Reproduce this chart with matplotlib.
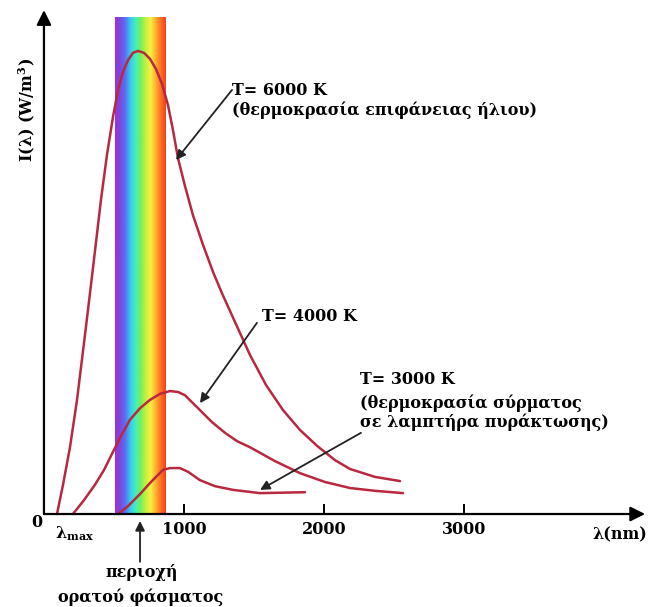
import numpy as np
import matplotlib
matplotlib.use('Agg')
import matplotlib.pyplot as plt
from matplotlib.colors import LinearSegmentedColormap

# wavelength (nm) and intensity (arbitrary units)
lam_6000 = [93, 136, 186, 236, 293, 350, 407, 450, 493, 529, 564, 600, 636, 671, 714, 757,
            800, 843, 886, 921, 957, 1007, 1064, 1136, 1207, 1271, 1364, 1471, 1586, 1707,
            1829, 1950, 2079, 2186, 2364, 2543]
I_6000 = [0, 6.3, 14.4, 24.6, 38.6, 53.0, 67.7, 77.4, 85.6, 91.4, 95.3, 97.8, 99.4, 99.8, 99.4, 98.1,
          95.9, 92.7, 88.1, 82.8, 76.7, 70.7, 64.4, 58.0, 52.2, 47.6, 41.4, 34.3, 27.8, 22.4,
          18.1, 14.7, 11.6, 9.7, 8.0, 7.1]

lam_4000 = [207, 286, 364, 429, 493, 550, 614, 686, 757, 829, 900, 957, 1007, 1057, 1114,
            1200, 1293, 1379, 1471, 1650, 1829, 2007, 2186, 2364, 2564]
I_4000 = [0, 3.0, 6.3, 9.5, 13.4, 16.8, 20.3, 22.8, 24.6, 25.9, 26.5, 26.3, 25.6, 24.1, 22.4,
          19.8, 17.5, 15.7, 14.4, 11.4, 8.8, 6.9, 5.6, 5.0, 4.5]

lam_3000 = [529, 600, 686, 764, 850, 900, 971, 1029, 1114, 1221, 1350, 1543, 1864]
I_3000 = [0, 1.7, 4.3, 6.9, 9.5, 9.9, 9.9, 9.1, 7.3, 6.0, 5.2, 4.5, 4.7]

visible = (507, 871)   # drawn band, nm
xticks = [1000, 2000, 3000]

spectrum = ['#a030d0', '#7a48e0', '#5a70f0', '#38c8f0', '#40f0c0', '#70f060',
            '#c0f040', '#f8f040', '#ffb030', '#ff7020', '#f04020']

plt.rcParams['font.family'] = ['DejaVu Serif']
plt.rcParams['font.weight'] = 'bold'
plt.rcParams['mathtext.fontset'] = 'dejavuserif'

fig = plt.figure(figsize=(6.49, 6.07), dpi=100)
ax = fig.add_axes([0, 0, 1, 1])
ax.set_xlim(-314, 4321)
ax.set_ylim(-20.04, 110.78)
ax.axis('off')

# visible spectrum band
cmap = LinearSegmentedColormap.from_list('spec', spectrum)
grad = np.linspace(0, 1, 256).reshape(1, -1)
ax.imshow(grad, cmap=cmap, aspect='auto', extent=[visible[0], visible[1], 0, 106.9], zorder=1)

line_kw = dict(color='#b8283f', lw=1.8, solid_capstyle='round', solid_joinstyle='round', zorder=3)
ax.plot(lam_6000, I_6000, **line_kw)
ax.plot(lam_4000, I_4000, **line_kw)
ax.plot(lam_3000, I_3000, **line_kw)

# axes with arrow heads
ak = dict(arrowstyle='-|>', color='black', lw=1.6, mutation_scale=22, shrinkA=0, shrinkB=0)
ax.annotate('', xy=(4293, 0), xytext=(0, 0), arrowprops=ak, zorder=4)
ax.annotate('', xy=(0, 108.6), xytext=(0, 0), arrowprops=ak, zorder=4)

fs = 11.5
for t in xticks:
    ax.plot([t, t], [0, 1.9], color='black', lw=1.4, zorder=4)
    ax.text(t, -3.4, str(t), ha='center', va='center', fontsize=fs)

ax.text(-50, -1.9, '0', ha='center', va='center', fontsize=fs)
ax.text(221, -4.3, r'$\mathbf{\lambda_{max}}$', ha='center', va='center', fontsize=fs)
ax.text(4114, -4.5, 'λ(nm)', ha='center', va='center', fontsize=fs)
ax.text(-121, 87.1, 'I(λ) (W/m$^\\mathbf{3}$)', ha='center', va='center', rotation=90, fontsize=fs)

# labels with arrows
lk = dict(arrowstyle='-|>', color='#222222', lw=1.3, mutation_scale=14, shrinkA=0, shrinkB=0)
ax.annotate('', xy=(943, 76.3), xytext=(1343, 91.4), arrowprops=lk, zorder=5)
ax.text(1343, 91.2, 'T= 6000 K', ha='left', va='center', fontsize=fs)
ax.text(1343, 87.1, '(θερμοκρασία επιφάνειας ήλιου)', ha='left', va='center', fontsize=fs)

ax.annotate('', xy=(1114, 23.9), xytext=(1521, 41.2), arrowprops=lk, zorder=5)
ax.text(1557, 42.5, 'T= 4000 K', ha='left', va='center', fontsize=fs)

ax.annotate('', xy=(1543, 5.2), xytext=(2264, 17.5), arrowprops=lk, zorder=5)
ax.text(2257, 28.9, 'T= 3000 K', ha='left', va='center', fontsize=fs)
ax.text(2257, 23.9, '(θερμοκρασία σύρματος', ha='left', va='center', fontsize=fs)
ax.text(2257, 19.8, 'σε λαμπτήρα πυράκτωσης)', ha='left', va='center', fontsize=fs)

ax.annotate('', xy=(686, -1.5), xytext=(686, -10.3), arrowprops=lk, zorder=5)
ax.text(700, -12.5, 'περιοχή', ha='center', va='center', fontsize=fs)
ax.text(693, -17.9, 'ορατού φάσματος', ha='center', va='center', fontsize=fs)

fig.savefig('out.png', dpi=100)
